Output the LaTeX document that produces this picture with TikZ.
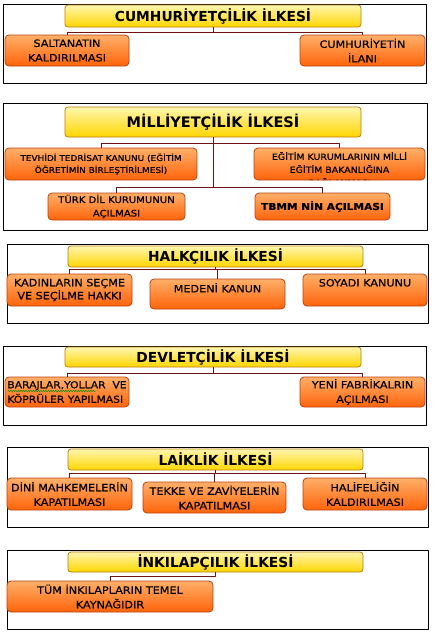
\documentclass[tikz,border=0pt]{standalone}
\usepackage{fontspec}
\setmainfont{DejaVu Sans}[FakeStretch=1.12, FakeBold=0.4]
\newfontfamily\headfont{DejaVu Sans}
\usetikzlibrary{decorations.pathmorphing}
\definecolor{headtop}{RGB}{255,246,175}
\definecolor{headbot}{RGB}{255,214,0}
\definecolor{headline}{RGB}{185,125,20}
\definecolor{itemtop}{RGB}{255,175,105}
\definecolor{itembot}{RGB}{255,100,10}
\definecolor{itemline}{RGB}{185,65,15}
\definecolor{linkcol}{RGB}{110,20,20}
\tikzset{
  panel/.style={draw=black, line width=0.9pt},
  head/.style={draw=headline, line width=0.8pt, rounded corners=3pt, top color=headtop, bottom color=headbot,
    inner sep=0pt, font=\headfont\bfseries\fontsize{13.8}{16}\selectfont},
  item/.style={draw=itemline, line width=0.8pt, rounded corners=4pt, top color=itemtop, bottom color=itembot,
    inner sep=0pt, align=center, font=\fontsize{10}{14.5}\selectfont},
  small/.style={font=\fontsize{8}{12}\selectfont},
  link/.style={draw=linkcol, line width=1pt},
}
\begin{document}
\begin{tikzpicture}[x=1pt, y=-1pt, line join=round]
	\useasboundingbox (0,0) rectangle (434,635);
	% cumhuriyetcilik
	\draw[panel] (3,4) rectangle (426,83);
	\node[head, minimum width=296pt, minimum height=22pt] (cum) at (213,16) {CUMHURİYETÇİLİK İLKESİ};
	\node[item, minimum width=124pt, minimum height=31pt] (cum1) at (67,50.5) {SALTANATIN\\KALDIRILMASI};
	\node[item, minimum width=125pt, minimum height=31pt] (cum2) at (362.5,50.5) {CUMHURİYETİN\\İLANI};
	\draw[link] (cum.south) -- ++(0,5) coordinate (cumb) -| (cum1.north);
	\draw[link] (cumb) -| (cum2.north);
	% milliyetcilik
	\draw[panel] (3,103) rectangle (427,230);
	\node[head, minimum width=296pt, minimum height=30pt, font=\headfont\bfseries\fontsize{14.5}{16}\selectfont] (mil) at (213,122) {MİLLİYETÇİLİK İLKESİ};
	\node[item, small, minimum width=192pt, minimum height=32pt] (mil1) at (101,164) {TEVHİDİ TEDRİSAT KANUNU (EĞİTİM\\ÖĞRETİMİN BİRLEŞTİRİLMESİ)};
	\node[item, minimum width=171pt, minimum height=32pt, path picture={
		\node[font=\fontsize{8.4}{13}\selectfont, align=center, yshift=-5pt] at (path picture bounding box.center)
		{EĞİTİM KURUMLARININ MİLLİ\\EĞİTİM BAKANLIĞINA\\BAĞLANMASI};}] (mil2) at (339.5,164) {};
	\node[item, font=\fontsize{9}{13.5}\selectfont, minimum width=137pt, minimum height=27pt] (mil3) at (116.5,206.5) {TÜRK DİL KURUMUNUN\\AÇILMASI};
	\node[item, font=\bfseries\fontsize{9.5}{12}\selectfont, minimum width=135pt, minimum height=27pt] (mil4) at (322.5,206.5) {TBMM NİN AÇILMASI};
	\draw[link] (mil.south) -- ++(0,6) coordinate (milb) -| (mil1.north);
	\draw[link] (milb) -| (mil2.north);
	\draw[link] (milb) -- ++(0,44) coordinate (milc) -| (mil3.north);
	\draw[link] (milc) -| (mil4.north);
	% halkcilik
	\draw[panel] (7,244) rectangle (428,323);
	\node[head, minimum width=295pt, minimum height=21pt] (hal) at (215.5,256.5) {HALKÇILIK İLKESİ};
	\node[item, font=\fontsize{10}{13}\selectfont, minimum width=125pt, minimum height=32pt] (hal1) at (69.5,290) {KADINLARIN SEÇME\\VE SEÇİLME HAKKI};
	\node[item, minimum width=135pt, minimum height=30pt] (hal2) at (217.5,294) {MEDENİ KANUN\\[-2pt]\mbox{}};
	\node[item, minimum width=124pt, minimum height=32pt] (hal3) at (365,290) {SOYADI KANUNU\\\mbox{}};
	\draw[link] (hal.south) -- ++(0,2) coordinate (halb) -| (hal2.north);
	\draw[link] (halb) -| (hal1.north);
	\draw[link] (halb) -| (hal3.north);
	% devletcilik
	\draw[panel] (3,346) rectangle (426,425);
	\node[head, minimum width=296pt, minimum height=20pt] (dev) at (213,357) {DEVLETÇİLİK İLKESİ};
	\node[item, align=left, font=\fontsize{9.6}{14.5}\selectfont, minimum width=124pt, minimum height=30pt] (dev1) at (67,392) {BARAJLAR,YOLLAR\ \ VE\\KÖPRÜLER YAPILMASI};
	\node[item, minimum width=125pt, minimum height=30pt] (dev2) at (362.5,392) {YENİ FABRİKALRIN\\AÇILMASI};
	\draw[link] (dev.south) -- ++(0,6) coordinate (devb) -| (dev1.north);
	\draw[link] (devb) -| (dev2.north);
	\draw[green!55!black, line width=0.5pt, decorate, decoration={snake, amplitude=0.6pt, segment length=2.5pt}]
		(dev1.west) ++(3,-1) -- ++(88,0);
	% laiklik
	\draw[panel] (7,447) rectangle (428,527);
	\node[head, minimum width=295pt, minimum height=21pt] (lai) at (215.5,459.5) {LAİKLİK İLKESİ};
	\node[item, minimum width=125pt, minimum height=32pt] (lai1) at (69.5,494) {DİNİ MAHKEMELERİN\\KAPATILMASI};
	\node[item, minimum width=143pt, minimum height=31pt] (lai2) at (214.5,497.5) {TEKKE VE ZAVİYELERİN\\KAPATILMASI};
	\node[item, minimum width=124pt, minimum height=32pt] (lai3) at (365,494) {HALİFELİĞİN\\KALDIRILMASI};
	\draw[link] (lai.south) -- ++(0,3) coordinate (laib) -| (lai2.north);
	\draw[link] (laib) -| (lai1.north);
	\draw[link] (laib) -| (lai3.north);
	% inkilapcilik
	\draw[panel] (7,550) rectangle (428,629);
	\node[head, minimum width=295pt, minimum height=20pt] (ink) at (215.5,562) {İNKILAPÇILIK İLKESİ};
	\node[item, minimum width=206pt, minimum height=31pt] (ink1) at (110,596.5) {TÜM İNKILAPLARIN TEMEL\\KAYNAĞIDIR};
	\draw[link] (ink.south) -- ++(0,4) -| (ink1.north);
\end{tikzpicture}
\end{document}
